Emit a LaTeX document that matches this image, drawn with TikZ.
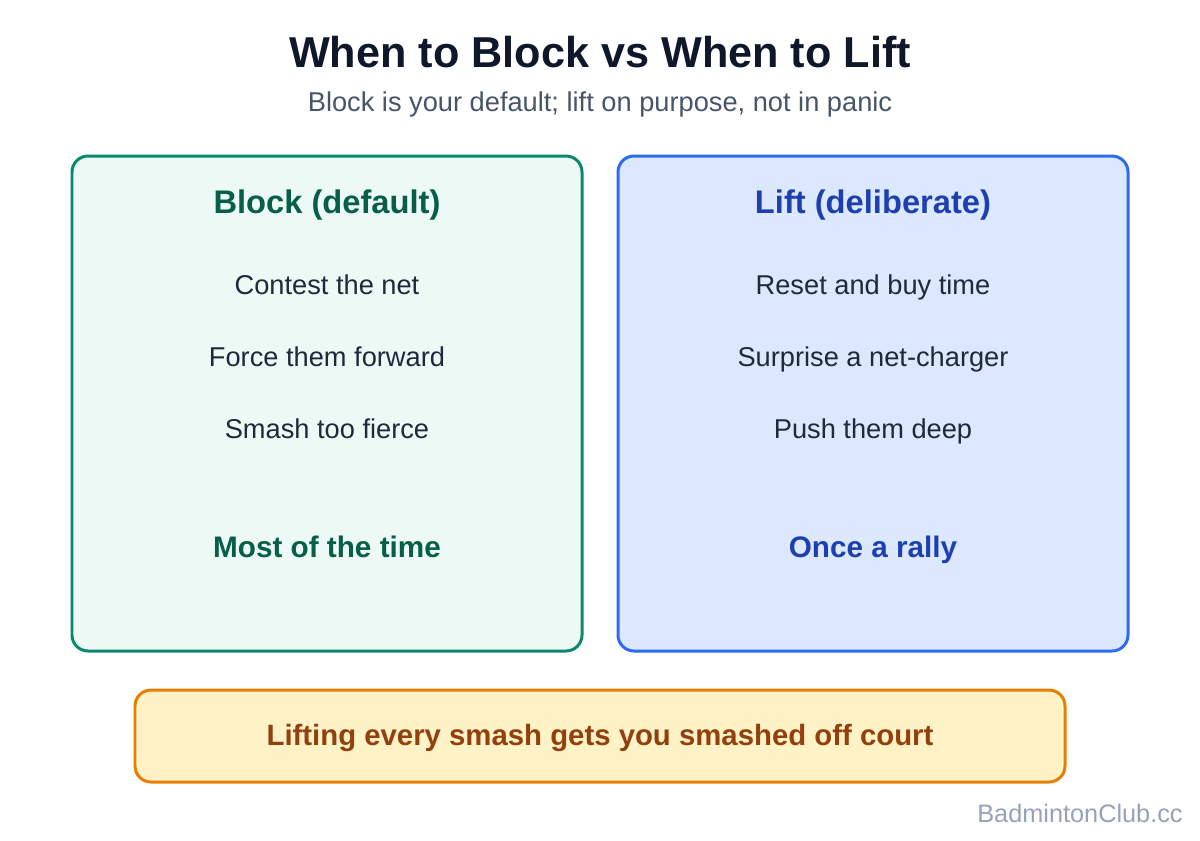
\documentclass[tikz,border=0pt]{standalone}
\usepackage{fontspec}
\setmainfont{Liberation Sans}
\definecolor{inkdark}{HTML}{0F172A}
\definecolor{inkgrey}{HTML}{475569}
\definecolor{inkbody}{HTML}{1E293B}
\definecolor{blockline}{HTML}{0A8A6C}
\definecolor{blockfill}{HTML}{ECF9F5}
\definecolor{blockink}{HTML}{065F46}
\definecolor{liftline}{HTML}{2F6BF0}
\definecolor{liftfill}{HTML}{DBE8FE}
\definecolor{liftink}{HTML}{1E40AF}
\definecolor{warnline}{HTML}{E67E00}
\definecolor{warnfill}{HTML}{FEF2C6}
\definecolor{warnink}{HTML}{92400E}
\definecolor{creditink}{HTML}{94A3B8}
\begin{document}
\begin{tikzpicture}[x=0.02cm, y=-0.02cm,
    every node/.style={inner sep=0pt, anchor=base},
    title/.style={font=\fontsize{24.6}{28}\selectfont\bfseries, text=inkdark},
    subtitle/.style={font=\fontsize{15.5}{18}\selectfont, text=inkgrey},
    panel/.style={line width=1.7pt, rounded corners=0.32cm},
    head/.style={font=\fontsize{18.6}{22}\selectfont\bfseries},
    item/.style={font=\fontsize{15.5}{18}\selectfont, text=inkbody},
    verdict/.style={font=\fontsize{16.9}{20}\selectfont\bfseries},
    credit/.style={font=\fontsize{14.4}{17}\selectfont, text=creditink}]
  \useasboundingbox[fill=white] (0,0) rectangle (1200,840);
  % heading
  \node[title] (title) at (600,67) {When to Block vs When to Lift};
  \node[subtitle] (subtitle) at (600,111) {Block is your default; lift on purpose, not in panic};
  % two panels
  \draw[panel, draw=blockline, fill=blockfill] (72,156) rectangle (582,651);
  \draw[panel, draw=liftline, fill=liftfill] (618,156) rectangle (1128,651);
  \node[head, text=blockink] (blockhead) at (327,213) {Block (default)};
  \node[head, text=liftink] (lifthead) at (873,213) {Lift (deliberate)};
  \node[item] (block1) at (327,294) {Contest the net};
  \node[item] (block2) at (327,366) {Force them forward};
  \node[item] (block3) at (327,438) {Smash too fierce};
  \node[item] (lift1) at (873,294) {Reset and buy time};
  \node[item] (lift2) at (873,366) {Surprise a net-charger};
  \node[item] (lift3) at (873,438) {Push them deep};
  \node[verdict, text=blockink] (blockfreq) at (327,557) {Most of the time};
  \node[verdict, text=liftink] (liftfreq) at (873,557) {Once a rally};
  % warning strip
  \draw[panel, draw=warnline, fill=warnfill] (135,690) rectangle (1065,782);
  \node[verdict, font=\fontsize{16.7}{20}\selectfont\bfseries, text=warnink] (warning) at (600,745) {Lifting every smash gets you smashed off court};
  \node[credit] (credit) at (1080,822) {BadmintonClub.cc};
\end{tikzpicture}
\end{document}
